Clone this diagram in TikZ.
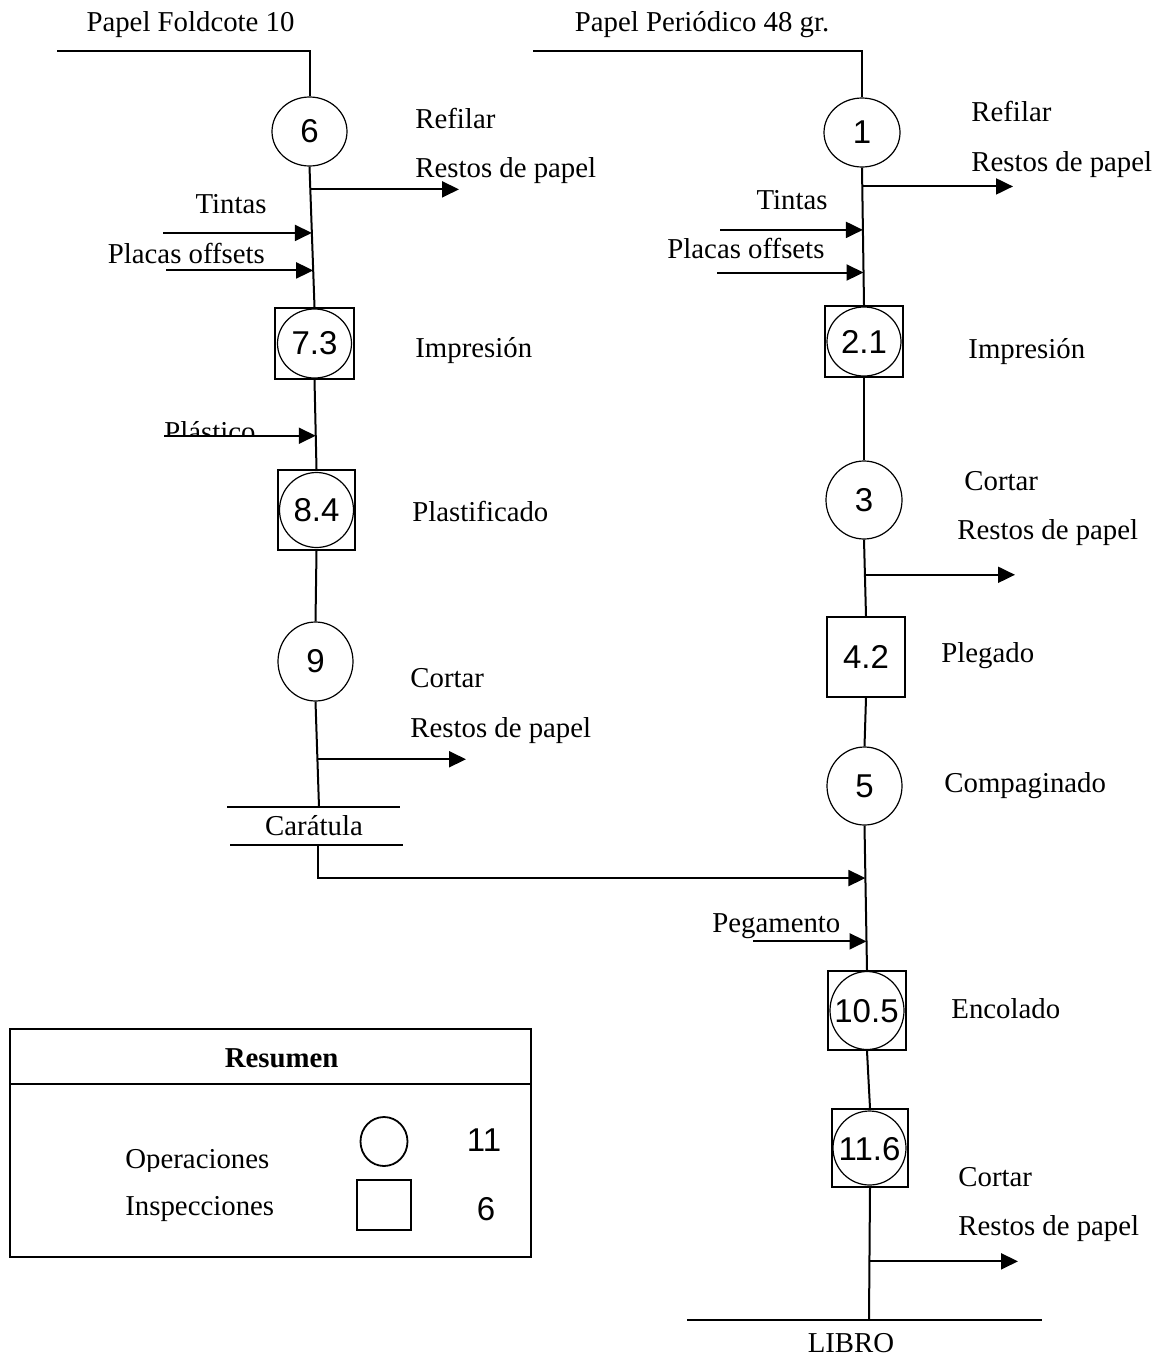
\documentclass[tikz,border=0pt]{standalone}
\usepackage{fontspec}
\setmainfont{Liberation Serif}
\newfontfamily\numf{Liberation Sans}
\usetikzlibrary{shapes.geometric,arrows.meta,calc}
\newcommand\serfont{\fontsize{14.4}{17}\selectfont}
\newcommand\numfont{\numf\fontsize{16.5}{19}\selectfont}
\begin{document}
\begin{tikzpicture}[x=0.5pt,y=-0.5pt,
  opn/.style={ellipse,draw,line width=0.6pt,inner sep=0pt,font=\numfont},
  insp/.style={rectangle,draw,line width=0.9pt,inner sep=0pt,font=\numfont},
  num/.style={inner sep=0pt,font=\numfont},
  conn/.style={line width=1pt},
  arr/.style={conn,-{Triangle[length=8.5pt,width=8pt]}},
  lbl/.style={font=\serfont,inner sep=0pt,anchor=base west},
  clbl/.style={font=\serfont,inner sep=0pt,anchor=base}]
\useasboundingbox (0,0) rectangle (1163,1360);

% ---------------- left column ----------------
\node[opn,minimum width=37.5pt,minimum height=34.5pt] (n6) at (309.5,131.5) {6};
\node[insp,minimum width=39.5pt,minimum height=35.5pt] (b73) at (314.5,343.5) {};
\node[opn,minimum width=37pt,minimum height=34.5pt] (o73) at (314.5,343.5) {};
\node[num] (t73) at (314.5,343.5) {7.3};
\node[insp,minimum width=38.5pt,minimum height=40pt] (b84) at (316.5,510) {};
\node[opn,minimum width=37pt,minimum height=37.5pt] (o84) at (316.5,510) {};
\node[num] (t84) at (316.5,510) {8.4};
\node[opn,minimum width=37.5pt,minimum height=39.5pt] (n9) at (315.5,661.5) {9};

\node[clbl] (tPF) at (190.5,32) {Papel Foldcote 10};
\node[lbl] (tRef6) at (415,128) {Refilar};
\node[lbl] (tRes6) at (415,177) {Restos de papel};
\node[clbl] (tTin1) at (231,213) {Tintas};
\node[lbl] (tPla1) at (107.5,263) {Placas offsets};
\node[lbl] (tImp1) at (415,357) {Impresión};
\begin{scope}
\clip (150,400) rectangle (300,436);
\node[lbl] (tPlas) at (164,441) {Plástico};
\end{scope}
\node[lbl] (tPlast) at (412,521) {Plastificado};
\node[lbl] (tCor9) at (410,687) {Cortar};
\node[lbl] (tRes9) at (410,737) {Restos de papel};
\node[clbl] (tCar) at (314,835) {Carátula};

\coordinate (sL) at (57,51);
\draw[conn] (sL) -- (sL -| n6.north) -- (n6.north);
\draw[conn] (n6.south) -- (b73.north);
\draw[conn] (b73.south) -- (b84.north);
\draw[conn] (b84.south) -- (n9.north);
\coordinate (c1) at (319,807);
\coordinate (c2) at (318,845);
\draw[conn] (n9.south) -- (c1);
\draw[conn] (227,807) -- (400,807);
\draw[conn] (230,845) -- (403,845);

\coordinate (jL1) at ($(n6.south)!0.162!(b73.north)$);
\coordinate (jL2) at ($(n6.south)!0.472!(b73.north)$);
\coordinate (jL3) at ($(n6.south)!0.739!(b73.north)$);
\coordinate (jL4) at ($(b73.south)!0.626!(b84.north)$);
\coordinate (jL5) at ($(n9.south)!0.547!(c1)$);
\coordinate (eL1) at (459,0);
\coordinate (sL2) at (163,0);
\coordinate (sL3) at (166,0);
\coordinate (sL4) at (164,0);
\coordinate (eL5) at (466,0);
\draw[arr] (jL1) -- (jL1 -| eL1);
\draw[arr] (jL2 -| sL2) -- (jL2);
\draw[arr] (jL3 -| sL3) -- (jL3);
\draw[arr] (jL4 -| sL4) -- (jL4);
\draw[arr] (jL5) -- (jL5 -| eL5);

% ---------------- right column ----------------
\node[opn,minimum width=38pt,minimum height=34.5pt] (n1) at (862,132.5) {1};
\node[insp,minimum width=39pt,minimum height=35.5pt] (b21) at (864,341.5) {};
\node[opn,minimum width=37pt,minimum height=34.5pt] (o21) at (864,341.5) {};
\node[num] (t21) at (864,341.5) {2.1};
\node[opn,minimum width=38pt,minimum height=39pt] (n3) at (864,500) {3};
\node[insp,minimum width=39pt,minimum height=40pt] (b42) at (866,657) {4.2};
\node[opn,minimum width=37.5pt,minimum height=39pt] (n5) at (864.5,786) {5};
\node[insp,minimum width=39pt,minimum height=39.5pt] (b105) at (867,1010.5) {};
\node[opn,minimum width=37pt,minimum height=39pt] (o105) at (867,1010.5) {};
\node[num] (t105) at (866.5,1011.5) {10.5};
\node[insp,minimum width=38pt,minimum height=39pt] (b116) at (870,1148) {};
\node[opn,minimum width=36.5pt,minimum height=37pt] (o116) at (869.5,1148) {};
\node[num] (t116) at (869.5,1149) {11.6};

\node[lbl] (tPP) at (574.5,32) {Papel Periódico 48 gr.};
\node[lbl] (tRef1) at (971,121) {Refilar};
\node[lbl] (tRes1) at (971,171) {Restos de papel};
\node[clbl] (tTin2) at (792,209) {Tintas};
\node[lbl] (tPla2) at (667,258) {Placas offsets};
\node[lbl] (tImp2) at (968,358) {Impresión};
\node[lbl] (tCor3) at (964,490) {Cortar};
\node[lbl] (tRes3) at (957,539) {Restos de papel};
\node[lbl] (tPleg) at (941,662) {Plegado};
\node[lbl] (tComp) at (944,792) {Compaginado};
\node[lbl] (tPeg) at (712,932) {Pegamento};
\node[lbl] (tEnc) at (951,1018) {Encolado};
\node[lbl] (tCor11) at (958,1186) {Cortar};
\node[lbl] (tRes11) at (958,1235) {Restos de papel};
\node[clbl] (tLib) at (851,1352) {LIBRO};

\coordinate (sR) at (533,51);
\coordinate (lb) at (869,1320);
\draw[conn] (sR) -- (sR -| n1.north) -- (n1.north);
\draw[conn] (n1.south) -- (b21.north);
\draw[conn] (b21.south) -- (n3.north);
\draw[conn] (n3.south) -- (b42.north);
\draw[conn] (b42.south) -- (n5.north);
\draw[conn] (n5.south) -- (b105.north);
\draw[conn] (b105.south) -- (b116.north);
\draw[conn] (b116.south) -- (lb);
\draw[conn] (687,1320) -- (1042,1320);

\coordinate (jR1) at ($(n1.south)!0.137!(b21.north)$);
\coordinate (jR2) at ($(n1.south)!0.453!(b21.north)$);
\coordinate (jR3) at ($(n1.south)!0.763!(b21.north)$);
\coordinate (jR4) at ($(n3.south)!0.46!(b42.north)$);
\coordinate (jR5) at ($(n5.south)!0.363!(b105.north)$);
\coordinate (jR6) at ($(n5.south)!0.801!(b105.north)$);
\coordinate (jR7) at ($(b116.south)!0.556!(lb)$);
\coordinate (eR1) at (1013,0);
\coordinate (sR2) at (720,0);
\coordinate (sR3) at (717,0);
\coordinate (eR4) at (1015,0);
\coordinate (sR6) at (753,0);
\coordinate (eR7) at (1018,0);
\draw[arr] (jR1) -- (jR1 -| eR1);
\draw[arr] (jR2 -| sR2) -- (jR2);
\draw[arr] (jR3 -| sR3) -- (jR3);
\draw[arr] (jR4) -- (jR4 -| eR4);
\draw[arr] (c2) |- (jR5);
\draw[arr] (jR6 -| sR6) -- (jR6);
\draw[arr] (jR7) -- (jR7 -| eR7);

% ---------------- summary ----------------
\node[draw,line width=1pt,minimum width=260.25pt,minimum height=114pt,inner sep=0pt] (sum) at (270.25,1143) {};
\draw[conn] (sum.west |- 0,1084) -- (sum.east |- 0,1084);
\node[font=\serfont\bfseries,inner sep=0pt,anchor=base] (tRes) at (281.6,1067) {Resumen};
\begin{scope}
\clip (100,1130) rectangle (300,1171);
\node[lbl] (tOp) at (125,1168) {Operaciones};
\end{scope}
\node[lbl] (tIn) at (125,1215) {Inspecciones};
\node[opn,line width=0.9pt,minimum width=23.5pt,minimum height=24.5pt] (sc) at (384,1141.5) {};
\node[insp,minimum width=27pt,minimum height=25pt] (ss) at (384,1205) {};
\node[num] (n11) at (484,1140) {11};
\node[num] (n6b) at (486,1209) {6};
\end{tikzpicture}
\end{document}
